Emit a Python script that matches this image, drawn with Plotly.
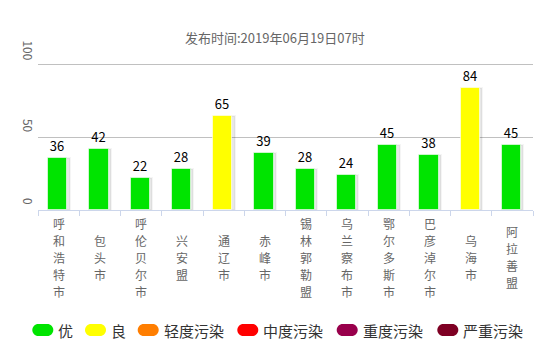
import plotly.graph_objects as go

# ---- data ----
cities = ["呼和浩特市", "包头市", "呼伦贝尔市", "兴安盟", "通辽市", "赤峰市",
          "锡林郭勒盟", "乌兰察布市", "鄂尔多斯市", "巴彦淖尔市", "乌海市", "阿拉善盟"]
aqi = [36, 42, 22, 28, 65, 39, 28, 24, 45, 38, 84, 45]
y_ticks = [0, 50, 100]
level_names = ["优", "良", "轻度污染", "中度污染", "重度污染", "严重污染"]
level_colors = ["#00e400", "#ffff00", "#ff7e00", "#ff0000", "#99004c", "#7e0023"]
level_upper = [50, 100, 150, 200, 300, 10000]
title_text = "发布时间:2019年06月19日07时"

FONT = "Noto Sans CJK SC"

def color_for(v):
    for up, c in zip(level_upper, level_colors):
        if v <= up:
            return c
    return level_colors[-1]

bar_colors = [color_for(v) for v in aqi]

# plot-area geometry in pixels (for converting legend layout to paper coords)
W, H = 549, 351
L, R, T, B = 38, 16, 62, 141
PW, PH = W - L - R, H - T - B
Y_TOP = 102

def px(x):
    return (x - L) / PW

def py(y):
    return (H - B - y) / PH

fig = go.Figure()

# soft shadow behind bars
fig.add_trace(go.Bar(
    x=cities, y=aqi, width=0.5, offset=-0.235,
    marker=dict(color="rgba(0,0,0,0.09)", line=dict(color="rgba(0,0,0,0.04)", width=2)),
    hoverinfo="skip", showlegend=False,
))
# main bars
fig.add_trace(go.Bar(
    x=cities, y=aqi, width=0.47, offset=-0.255,
    marker=dict(color=bar_colors, line=dict(color="rgba(255,255,255,0.6)", width=1)),
    text=[str(v) for v in aqi], textposition="outside",
    textfont=dict(family=FONT, size=13, color="#000000"),
    cliponaxis=False, showlegend=False,
))

annotations = []
# category labels, one character per row, block centred vertically
row_step = 17
for c in cities:
    n = len(c)
    for i, ch in enumerate(c):
        annotations.append(dict(
            x=c, xref="x", y=py(257), yref="paper", yanchor="middle", xanchor="center",
            yshift=-(i - (n - 1) / 2) * row_step,
            text=ch, showarrow=False,
            font=dict(family=FONT, size=12, color="#666666"),
        ))
# y tick labels (rotated)
for v in y_ticks:
    annotations.append(dict(
        x=px(28.5), xref="paper", y=v, yref="y", yanchor="bottom", xanchor="center",
        text=str(v), textangle=90, showarrow=False, yshift=3,
        font=dict(family=FONT, size=12, color="#666666"),
    ))
# title
annotations.append(dict(
    x=(274.5 - L) / PW, xref="paper", y=py(37.5), yref="paper",
    xanchor="center", yanchor="middle", text=title_text, showarrow=False,
    font=dict(family=FONT, size=13, color="#666666"),
))

# custom legend with pill icons
legend_pill_x = [32.3, 85.0, 137.7, 237.3, 336.7, 437.3]
pill_w, pill_h, cy = 21, 12, 330
shapes = []
k = 0.5523
for name, col, x0 in zip(level_names, level_colors, legend_pill_x):
    r = pill_h / 2
    x1 = x0 + pill_w
    t, b = cy - r, cy + r
    xl, xr = x0 + r, x1 - r
    path = (
        f"M {px(xl)},{py(t)} L {px(xr)},{py(t)} "
        f"C {px(xr + k*r)},{py(t)} {px(x1)},{py(cy - k*r)} {px(x1)},{py(cy)} "
        f"C {px(x1)},{py(cy + k*r)} {px(xr + k*r)},{py(b)} {px(xr)},{py(b)} "
        f"L {px(xl)},{py(b)} "
        f"C {px(xl - k*r)},{py(b)} {px(x0)},{py(cy + k*r)} {px(x0)},{py(cy)} "
        f"C {px(x0)},{py(cy - k*r)} {px(xl - k*r)},{py(t)} {px(xl)},{py(t)} Z"
    )
    shapes.append(dict(type="path", path=path, xref="paper", yref="paper",
                       fillcolor=col, line=dict(width=0), layer="above"))
    annotations.append(dict(
        x=px(x1 + 3), xref="paper", y=py(cy), yref="paper",
        xanchor="left", yanchor="middle", text=name, showarrow=False,
        font=dict(family=FONT, size=15, color="#333333"),
    ))

fig.update_layout(
    width=W, height=H,
    margin=dict(l=L, r=R, t=T, b=B, pad=0),
    paper_bgcolor="white", plot_bgcolor="white",
    barmode="overlay", bargap=0,
    showlegend=False,
    annotations=annotations, shapes=shapes,
    xaxis=dict(
        type="category", showticklabels=False, showgrid=False,
        showline=True, linecolor="#ccd6eb", linewidth=1,
        ticks="outside", tickson="boundaries", ticklen=5, tickcolor="#ccd6eb",
        range=[-0.5, len(cities) - 0.5], fixedrange=True,
    ),
    yaxis=dict(
        range=[0, Y_TOP], tickvals=y_ticks, showticklabels=False,
        showgrid=True, gridcolor="#c0c0c0", gridwidth=1,
        zeroline=False, showline=False, fixedrange=True,
    ),
)

fig.write_html("out.html")
